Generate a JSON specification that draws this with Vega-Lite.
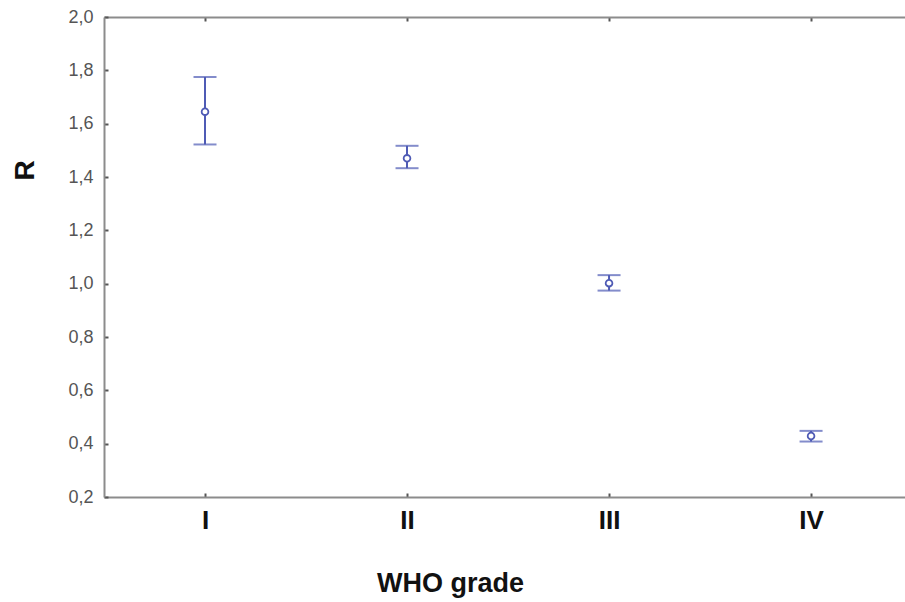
{
  "$schema": "https://vega.github.io/schema/vega-lite/v6.json",
  "width": 801,
  "height": 480,
  "autosize": "none",
  "padding": {"left": 104, "top": 17, "right": 0, "bottom": 105},
  "background": "white",
  "config": {
    "view": {"stroke": null},
    "font": "Liberation Sans",
    "axis": {"domainColor": "#8c8c8c", "domainWidth": 2, "tickColor": "#555", "grid": false}
  },
  "data": {
    "values": [
      {"grade": "I", "idx": 1, "mean": 1.645, "lower": 1.522, "upper": 1.775},
      {"grade": "II", "idx": 2, "mean": 1.470, "lower": 1.433, "upper": 1.517},
      {"grade": "III", "idx": 3, "mean": 1.002, "lower": 0.974, "upper": 1.032},
      {"grade": "IV", "idx": 4, "mean": 0.429, "lower": 0.408, "upper": 0.448}
    ]
  },
  "resolve": {"axis": {"x": "independent"}},
  "layer": [
    {
      "mark": {"type": "rule", "color": "#4f5bb5", "strokeWidth": 2},
      "encoding": {
        "x": {
          "field": "idx", "type": "quantitative",
          "scale": {"domain": [0.5, 4.465], "nice": false, "zero": false},
          "axis": {
            "orient": "bottom", "values": [1, 2, 3, 4],
            "labelExpr": "['I','II','III','IV'][datum.value-1]",
            "labelFontSize": 26, "labelFontWeight": "bold", "labelColor": "#111",
            "tickSize": -4, "tickWidth": 2, "labelPadding": 14,
            "title": "WHO grade", "titleFontSize": 27, "titleFontWeight": "bold", "titleColor": "#111",
            "titleX": 346, "titleY": 86, "titleBaseline": "middle", "titleAlign": "center"
          }
        },
        "y": {
          "field": "lower", "type": "quantitative",
          "scale": {"domain": [0.2, 2.0], "nice": false, "zero": false},
          "axis": {
            "values": [0.2, 0.4, 0.6, 0.8, 1.0, 1.2, 1.4, 1.6, 1.8, 2.0],
            "labelExpr": "replace(format(datum.value, '.1f'), '.', ',')",
            "labelFontSize": 18, "labelColor": "#555",
            "tickSize": -4, "tickWidth": 2, "labelPadding": 15,
            "title": "R", "titleFontSize": 28, "titleFontWeight": "bold", "titleColor": "#111",
            "titleX": -79, "titleY": 153, "titleAngle": -90, "titleAlign": "center", "titleBaseline": "middle"
          }
        },
        "y2": {"field": "upper"}
      }
    },
    {
      "mark": {"type": "tick", "orient": "horizontal", "color": "#4f5bb5", "thickness": 2, "size": 23},
      "encoding": {
        "x": {
          "field": "idx", "type": "quantitative",
          "axis": {"orient": "top", "values": [1, 2, 3, 4], "labels": false, "title": null, "tickSize": -4, "tickWidth": 2}
        },
        "y": {"field": "lower", "type": "quantitative"}
      }
    },
    {
      "mark": {"type": "tick", "orient": "horizontal", "color": "#4f5bb5", "thickness": 2, "size": 23},
      "encoding": {
        "x": {"field": "idx", "type": "quantitative", "axis": null},
        "y": {"field": "upper", "type": "quantitative"}
      }
    },
    {
      "mark": {"type": "point", "shape": "circle", "filled": true, "fill": "white", "stroke": "#4f5bb5", "strokeWidth": 1.8, "size": 45, "opacity": 1},
      "encoding": {
        "x": {"field": "idx", "type": "quantitative", "axis": null},
        "y": {"field": "mean", "type": "quantitative"}
      }
    }
  ]
}
